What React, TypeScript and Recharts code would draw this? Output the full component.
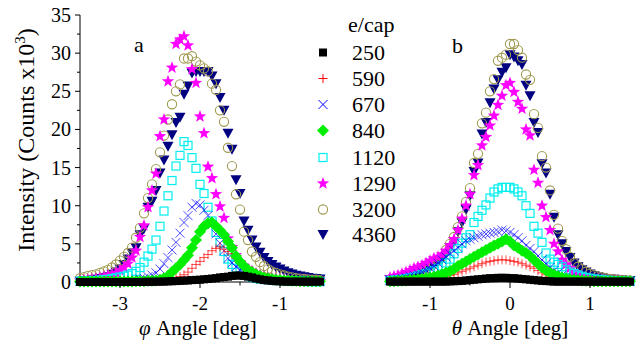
import React from 'react';
import { ScatterChart, Scatter, XAxis, YAxis } from 'recharts';

const phiAngles = [
  -3.5, -3.45, -3.4, -3.35, -3.3, -3.25, -3.2, -3.15, -3.1, -3.05,
  -3.0, -2.95, -2.9, -2.85, -2.8, -2.75, -2.7, -2.65, -2.6, -2.55,
  -2.5, -2.45, -2.4, -2.35, -2.3, -2.25, -2.2, -2.15, -2.1, -2.05,
  -2.0, -1.95, -1.9, -1.85, -1.8, -1.75, -1.7, -1.65, -1.6, -1.55,
  -1.5, -1.45, -1.4, -1.35, -1.3, -1.25, -1.2, -1.15, -1.1, -1.05,
  -1.0, -0.95, -0.9, -0.85, -0.8, -0.75, -0.7, -0.65, -0.6, -0.55,
  -0.5,
];
const thetaAngles = [
  -1.5, -1.45, -1.4, -1.35, -1.3, -1.25, -1.2, -1.15, -1.1, -1.05,
  -1.0, -0.95, -0.9, -0.85, -0.8, -0.75, -0.7, -0.65, -0.6, -0.55,
  -0.5, -0.45, -0.4, -0.35, -0.3, -0.25, -0.2, -0.15, -0.1, -0.05,
  0.0, 0.05, 0.1, 0.15, 0.2, 0.25, 0.3, 0.35, 0.4, 0.45,
  0.5, 0.55, 0.6, 0.65, 0.7, 0.75, 0.8, 0.85, 0.9, 0.95,
  1.0, 1.05, 1.1, 1.15, 1.2, 1.25, 1.3, 1.35, 1.4, 1.45,
  1.5,
];
const seriesLabels = ['250', '590', '670', '840', '1120', '1290', '3200', '4360'];
const phiTicks = [-3, -2.5, -2, -1.5, -1];
const thetaTicks = [-1, -0.5, 0, 0.5, 1];
const intensityTicks = [0, 2.5, 5, 7.5, 10, 12.5, 15, 17.5, 20, 22.5, 25, 27.5, 30, 32.5, 35];

// phi scan (panel a)
const phi250 = [
  0, 0, 0, 0, 0, 0, 0, 0, 0, 0,
  0, 0, 0, 0, 0, 0, 0.02, 0.02, 0.03, 0.04,
  0.05, 0.05, 0.08, 0.1, 0.12, 0.15, 0.18, 0.2, 0.25, 0.28,
  0.3, 0.35, 0.4, 0.45, 0.5, 0.6, 0.65, 0.7, 0.8, 0.85,
  0.85, 0.8, 0.7, 0.6, 0.45, 0.35, 0.25, 0.2, 0.15, 0.1,
  0.1, 0.05, 0.05, 0.05, 0.05, 0.05, 0.05, 0.05, 0.05, 0.05,
  0.05,
];
const phi590 = [
  0.05, 0.05, 0.05, 0.05, 0.05, 0.05, 0.05, 0.05, 0.05, 0.05,
  0.05, 0.05, 0.05, 0.1, 0.1, 0.1, 0.1, 0.15, 0.15, 0.2,
  0.2, 0.25, 0.3, 0.4, 0.55, 0.7, 0.95, 1.3, 1.8, 2.3,
  2.7, 3.2, 3.6, 4.1, 4.4, 4.6, 4.3, 4.0, 3.7, 3.1,
  2.7, 2.2, 1.8, 1.5, 1.2, 0.9, 0.7, 0.55, 0.45, 0.35,
  0.3, 0.25, 0.2, 0.15, 0.15, 0.1, 0.1, 0.1, 0.1, 0.1,
  0.1,
];
const phi670 = [
  0.05, 0.05, 0.05, 0.05, 0.05, 0.1, 0.1, 0.1, 0.1, 0.15,
  0.15, 0.2, 0.2, 0.25, 0.3, 0.4, 0.5, 0.7, 0.9, 1.2,
  1.7, 2.4, 3.2, 4.2, 5.2, 6.4, 7.8, 8.7, 9.8, 10.3,
  10.1, 9.4, 8.7, 7.5, 6.3, 5.1, 4.1, 3.1, 2.5, 2.0,
  1.6, 1.3, 1.0, 0.8, 0.6, 0.5, 0.4, 0.3, 0.25, 0.2,
  0.15, 0.15, 0.1, 0.1, 0.1, 0.1, 0.05, 0.05, 0.05, 0.05,
  0.05,
];
const phi840 = [
  0.05, 0.05, 0.05, 0.05, 0.05, 0.05, 0.05, 0.05, 0.05, 0.05,
  0.05, 0.05, 0.05, 0.05, 0.1, 0.1, 0.1, 0.15, 0.15, 0.2,
  0.3, 0.5, 0.8, 1.3, 1.8, 2.3, 2.9, 3.5, 4.5, 5.5,
  6.6, 7.3, 7.7, 7.8, 7.3, 6.8, 6.2, 5.3, 4.5, 3.4,
  2.7, 2.1, 1.6, 1.3, 1.0, 0.8, 0.6, 0.5, 0.4, 0.3,
  0.25, 0.2, 0.2, 0.15, 0.15, 0.1, 0.1, 0.1, 0.1, 0.1,
  0.1,
];
const phi1120 = [
  0.1, 0.1, 0.15, 0.15, 0.2, 0.25, 0.3, 0.35, 0.45, 0.55,
  0.65, 0.75, 0.9, 1.1, 1.4, 1.9, 2.6, 3.4, 4.3, 5.5,
  7.3, 9.3, 11.3, 13.3, 15.2, 16.6, 18.4, 17.9, 16.3, 14.9,
  12.8, 11.6, 9.8, 8.0, 6.5, 5.2, 4.0, 3.0, 2.3, 1.8,
  1.4, 1.1, 0.85, 0.65, 0.5, 0.4, 0.35, 0.3, 0.25, 0.2,
  0.2, 0.15, 0.15, 0.1, 0.1, 0.1, 0.1, 0.05, 0.05, 0.05,
  0.05,
];
const phi1290 = [
  0.2, 0.25, 0.3, 0.35, 0.45, 0.55, 0.7, 0.85, 1.0, 1.2,
  1.5, 1.9, 2.4, 3.2, 4.1, 5.9, 7.4, 9.8, 12.0, 14.2,
  19.1, 21.3, 26.3, 28.1, 31.2, 31.8, 32.2, 31.0, 27.9, 26.1,
  21.7, 19.5, 15.1, 13.6, 11.5, 9.9, 8.4, 5.7, 4.6, 3.5,
  2.6, 2.1, 1.7, 1.4, 1.1, 0.9, 0.7, 0.55, 0.45, 0.4,
  0.35, 0.3, 0.25, 0.2, 0.2, 0.15, 0.15, 0.1, 0.1, 0.1,
  0.1,
];
const phi3200 = [
  0.5, 0.65, 0.8, 0.9, 1.0, 1.2, 1.4, 1.6, 1.9, 2.3,
  2.8, 3.3, 3.8, 4.5, 5.8, 7.1, 9.0, 11.0, 12.8, 14.8,
  17.0, 19.2, 21.3, 23.3, 25.0, 25.9, 29.3, 29.3, 29.6, 28.9,
  28.4, 28.0, 27.6, 26.0, 25.2, 22.5, 21.0, 17.6, 15.2, 11.5,
  9.5, 6.6, 5.5, 4.0, 3.3, 2.6, 2.1, 1.7, 1.4, 1.2,
  1.0, 0.85, 0.7, 0.6, 0.5, 0.45, 0.4, 0.35, 0.3, 0.3,
  0.25,
];
const phi4360 = [
  0.1, 0.15, 0.2, 0.25, 0.35, 0.45, 0.55, 0.7, 1.0, 1.3,
  1.7, 2.3, 3.0, 3.8, 4.5, 6.2, 7.0, 9.8, 10.6, 12.0,
  14.3, 16.0, 17.8, 19.3, 20.9, 21.6, 24.6, 25.7, 27.4, 27.6,
  27.6, 27.6, 27.6, 27.0, 26.0, 24.2, 22.5, 19.5, 17.4, 13.4,
  11.6, 8.0, 6.8, 5.5, 4.6, 3.9, 3.2, 2.7, 2.3, 1.95,
  1.7, 1.45, 1.2, 1.05, 0.9, 0.8, 0.7, 0.6, 0.5, 0.45,
  0.4,
];

// theta scan (panel b)
const theta250 = [
  0.05, 0.05, 0.05, 0.05, 0.05, 0.05, 0.05, 0.05, 0.05, 0.05,
  0.05, 0.05, 0.05, 0.05, 0.05, 0.08, 0.1, 0.12, 0.15, 0.2,
  0.25, 0.3, 0.35, 0.4, 0.45, 0.5, 0.5, 0.55, 0.55, 0.55,
  0.5, 0.5, 0.45, 0.4, 0.35, 0.3, 0.25, 0.2, 0.15, 0.12,
  0.1, 0.05, 0.05, 0.05, 0.05, 0.05, 0.05, 0.05, 0.05, 0.05,
  0.05, 0.05, 0.05, 0.05, 0.05, 0.05, 0.05, 0.05, 0.05, 0.05,
  0.05,
];
const theta590 = [
  0.05, 0.05, 0.1, 0.1, 0.1, 0.15, 0.15, 0.2, 0.2, 0.25,
  0.3, 0.35, 0.45, 0.55, 0.7, 0.85, 1.0, 1.2, 1.4, 1.6,
  1.8, 2.0, 2.2, 2.4, 2.6, 2.7, 2.8, 2.9, 2.9, 2.9,
  2.8, 2.7, 2.6, 2.4, 2.2, 2.0, 1.8, 1.5, 1.2, 0.95,
  0.75, 0.6, 0.45, 0.35, 0.25, 0.2, 0.15, 0.15, 0.1, 0.1,
  0.1, 0.05, 0.05, 0.05, 0.05, 0.05, 0.05, 0.05, 0.05, 0.05,
  0.05,
];
const theta670 = [
  0.25, 0.3, 0.4, 0.5, 0.6, 0.75, 0.9, 1.1, 1.3, 1.55,
  1.8, 2.1, 2.5, 2.9, 3.3, 3.7, 4.1, 4.5, 5.0, 5.4,
  5.6, 5.8, 6.0, 6.2, 6.3, 6.4, 6.5, 6.6, 6.8, 6.7,
  6.5, 6.2, 5.8, 5.4, 4.8, 4.4, 4.0, 3.4, 2.9, 2.4,
  1.9, 1.5, 1.2, 0.9, 0.7, 0.55, 0.45, 0.35, 0.3, 0.25,
  0.2, 0.2, 0.15, 0.15, 0.1, 0.1, 0.1, 0.1, 0.1, 0.1,
  0.1,
];
const theta840 = [
  0.1, 0.1, 0.15, 0.15, 0.2, 0.25, 0.3, 0.35, 0.4, 0.5,
  0.6, 0.7, 0.85, 1.0, 1.2, 1.4, 1.7, 2.1, 2.4, 2.7,
  3.0, 3.3, 3.6, 3.9, 4.2, 4.5, 4.8, 5.0, 5.3, 5.6,
  5.3, 4.8, 4.5, 4.1, 3.8, 3.4, 2.9, 2.4, 1.9, 1.5,
  1.2, 0.95, 0.75, 0.6, 0.45, 0.35, 0.3, 0.25, 0.2, 0.15,
  0.15, 0.1, 0.1, 0.1, 0.1, 0.1, 0.1, 0.1, 0.1, 0.1,
  0.1,
];
const theta1120 = [
  0.2, 0.25, 0.3, 0.35, 0.45, 0.55, 0.65, 0.8, 0.95, 1.1,
  1.3, 1.5, 1.8, 2.1, 2.5, 3.0, 3.7, 4.4, 5.1, 5.8,
  6.2, 7.8, 8.6, 9.4, 10.1, 11.0, 11.8, 12.2, 12.4, 12.4,
  12.4, 12.2, 11.8, 11.3, 10.0, 9.0, 7.3, 6.4, 5.2, 3.8,
  3.0, 2.6, 2.3, 2.0, 1.6, 1.3, 1.1, 0.9, 0.75, 0.6,
  0.5, 0.4, 0.35, 0.3, 0.25, 0.2, 0.15, 0.15, 0.1, 0.1,
  0.1,
];
const theta1290 = [
  0.6, 0.75, 0.9, 1.1, 1.3, 1.55, 1.8, 2.0, 2.2, 2.5,
  2.8, 3.1, 3.3, 3.6, 4.1, 4.8, 5.6, 6.8, 8.3, 10.0,
  11.5, 14.0, 15.3, 17.9, 19.0, 20.5, 21.8, 23.2, 24.4, 25.8,
  26.1, 24.9, 23.6, 22.7, 20.0, 19.2, 14.7, 13.0, 10.0, 8.5,
  6.8, 5.0, 4.0, 2.9, 2.3, 1.8, 1.3, 1.0, 0.8, 0.6,
  0.5, 0.4, 0.35, 0.3, 0.25, 0.2, 0.2, 0.15, 0.15, 0.1,
  0.1,
];
const theta3200 = [
  0.3, 0.35, 0.45, 0.55, 0.7, 0.85, 1.0, 1.2, 1.5, 1.8,
  2.1, 2.4, 2.9, 3.3, 4.2, 5.0, 5.9, 7.2, 8.6, 10.5,
  12.3, 15.6, 16.8, 20.8, 22.2, 25.0, 26.6, 29.0, 29.4, 29.8,
  31.2, 31.2, 30.4, 29.4, 27.2, 26.5, 22.0, 20.2, 16.5, 15.0,
  12.0, 8.8, 7.0, 5.4, 4.3, 3.3, 2.5, 2.0, 1.7, 1.35,
  1.1, 0.9, 0.75, 0.6, 0.5, 0.4, 0.35, 0.3, 0.25, 0.2,
  0.2,
];
const theta4360 = [
  0.3, 0.35, 0.4, 0.5, 0.6, 0.75, 0.9, 1.1, 1.35, 1.6,
  1.9, 2.2, 2.6, 3.0, 3.7, 4.5, 5.3, 6.6, 7.8, 9.5,
  11.3, 14.5, 15.6, 19.4, 20.9, 23.5, 25.3, 26.5, 27.5, 28.1,
  29.8, 29.5, 29.0, 28.5, 25.8, 24.4, 20.9, 19.6, 15.5, 14.3,
  11.5, 8.5, 6.2, 5.0, 4.0, 3.2, 2.5, 2.0, 1.6, 1.3,
  1.05, 0.85, 0.7, 0.55, 0.45, 0.4, 0.35, 0.3, 0.25, 0.2,
  0.2,
];

const phiSeries = [phi250, phi590, phi670, phi840, phi1120, phi1290, phi3200, phi4360];
const thetaSeries = [theta250, theta590, theta670, theta840, theta1120, theta1290, theta3200, theta4360];

const markerKinds = ['square', 'plus', 'cross', 'diamond', 'osquare', 'star', 'circle', 'tri'];
const markerColors = ['#000000', '#ff0000', '#0000ff', '#00ee00', '#00eeee', '#ff00ff', '#a09a50', '#000080'];
const drawOrder = [7, 6, 5, 4, 2, 1, 3, 0];

const FONT = "'Liberation Serif', Tinos, 'Times New Roman', 'DejaVu Serif', serif";
const textStyle = { fontFamily: FONT };

function starPoints(cx: number, cy: number, ro: number, ri: number) {
  const pts: string[] = [];
  for (let k = 0; k < 10; k++) {
    const r = k % 2 === 0 ? ro : ri;
    const a = -Math.PI / 2 + (k * Math.PI) / 5;
    pts.push(`${cx + r * Math.cos(a)},${cy + r * Math.sin(a)}`);
  }
  return pts.join(' ');
}

function renderMarker(kind: string, color: string, cx: number, cy: number, inPlot: boolean) {
  const op = inPlot && (kind === 'plus' || kind === 'cross') ? 0.7 : 1;
  switch (kind) {
    case 'square':
      return <rect x={cx - 4} y={cy - 4} width={8} height={8} fill={color} />;
    case 'plus':
      return (
        <path d={`M${cx - 4.5},${cy}H${cx + 4.5}M${cx},${cy - 4.5}V${cy + 4.5}`} stroke={color} strokeWidth={1} fill="none" opacity={op} />
      );
    case 'cross':
      return (
        <path d={`M${cx - 4.5},${cy - 4.5}L${cx + 4.5},${cy + 4.5}M${cx - 4.5},${cy + 4.5}L${cx + 4.5},${cy - 4.5}`} stroke={color} strokeWidth={1} fill="none" opacity={op} />
      );
    case 'diamond':
      return <polygon points={`${cx},${cy - 6} ${cx + 6},${cy} ${cx},${cy + 6} ${cx - 6},${cy}`} fill={color} />;
    case 'osquare':
      return <rect x={cx - 4} y={cy - 4} width={8} height={8} fill="none" stroke={color} strokeWidth={1.2} />;
    case 'star':
      return <polygon points={starPoints(cx, cy, 6.5, 2.7)} fill={color} />;
    case 'circle':
      return <circle cx={cx} cy={cy} r={4.6} fill="none" stroke={color} strokeWidth={1.1} />;
    case 'tri':
    default:
      return <polygon points={`${cx - 5.5},${cy - 4.5} ${cx + 5.5},${cy - 4.5} ${cx},${cy + 5.5}`} fill={color} />;
  }
}

const toPoints = (xs: number[], ys: number[]) => xs.map((x, i) => ({ x, y: ys[i] }));

const XTick = (props: any) => {
  const { x, y, payload } = props;
  const v = payload.value;
  const major = Number.isInteger(v);
  return (
    <g>
      <line x1={x} x2={x} y1={y} y2={y + (major ? 6 : 3.5)} stroke="#000" strokeWidth={1} />
      {major && (
        <text x={x} y={y + 28} textAnchor="middle" fontSize={19} style={textStyle} fill="#000">
          {v}
        </text>
      )}
    </g>
  );
};

const YTick = (props: any) => {
  const { x, y, payload } = props;
  const v = payload.value;
  const major = v % 5 === 0;
  return (
    <g>
      <line x1={x - (major ? 5 : 3)} x2={x} y1={y} y2={y} stroke="#000" strokeWidth={1} />
      {major && (
        <text x={x - 9} y={y + 7} textAnchor="end" fontSize={20} style={textStyle} fill="#000">
          {v}
        </text>
      )}
    </g>
  );
};

function renderScatters(xs: number[], series: number[][]) {
  return drawOrder.map((idx) => (
    <Scatter
      key={seriesLabels[idx]}
      name={seriesLabels[idx]}
      data={toPoints(xs, series[idx])}
      isAnimationActive={false}
      shape={(p: any) => renderMarker(markerKinds[idx], markerColors[idx], p.cx, p.cy, true)}
    />
  ));
}

export default function App() {
  const legendBaselines = [60, 86, 112, 138, 165, 191, 217, 242];
  return (
    <div style={{ position: 'absolute', left: 0, top: 0, width: 636, height: 342, background: '#fff', fontFamily: FONT }}>
      <div style={{ position: 'absolute', left: 0, top: 0 }}>
        <ScatterChart width={340} height={342} margin={{ top: 15, right: 20, bottom: 0, left: 0 }}>
          <XAxis
            type="number"
            dataKey="x"
            domain={[-3.5, -0.5]}
            ticks={phiTicks}
            interval={0}
            height={60}
            tickSize={0}
            tickMargin={0}
            tickLine={false}
            axisLine={{ stroke: '#000' }}
            tick={(p: any) => <XTick {...p} />}
          />
          <YAxis
            type="number"
            dataKey="y"
            domain={[0, 35]}
            ticks={intensityTicks}
            interval={0}
            width={80}
            tickSize={0}
            tickMargin={0}
            tickLine={false}
            axisLine={{ stroke: '#000' }}
            tick={(p: any) => <YTick {...p} />}
          />
          {renderScatters(phiAngles, phiSeries)}
        </ScatterChart>
      </div>
      <div style={{ position: 'absolute', left: 300, top: 0 }}>
        <ScatterChart width={336} height={342} margin={{ top: 15, right: 6, bottom: 0, left: 90 }}>
          <XAxis
            type="number"
            dataKey="x"
            domain={[-1.5, 1.5]}
            ticks={thetaTicks}
            interval={0}
            height={60}
            tickSize={0}
            tickMargin={0}
            tickLine={false}
            axisLine={{ stroke: '#000' }}
            tick={(p: any) => <XTick {...p} />}
          />
          <YAxis type="number" dataKey="y" domain={[0, 35]} hide />
          {renderScatters(thetaAngles, thetaSeries)}
        </ScatterChart>
      </div>
      <svg width={636} height={342} style={{ position: 'absolute', left: 0, top: 0, pointerEvents: 'none' }}>
        <text transform="translate(34,140) rotate(-90)" textAnchor="middle" fontSize={24} style={textStyle} fill="#000">
          Intensity (Counts x10<tspan dy={-9} fontSize={15}>3</tspan>
          <tspan dy={9}>)</tspan>
        </text>
        <text x={198} y={335} textAnchor="middle" fontSize={21} style={textStyle} fill="#000">
          <tspan fontStyle="italic">φ</tspan> Angle [deg]
        </text>
        <text x={510} y={335} textAnchor="middle" fontSize={21} style={textStyle} fill="#000">
          <tspan fontStyle="italic">θ</tspan> Angle [deg]
        </text>
        <text x={134} y={52} fontSize={22} style={textStyle} fill="#000">a</text>
        <text x={452} y={53} fontSize={22} style={textStyle} fill="#000">b</text>
        <text x={348} y={32} fontSize={22} style={textStyle} fill="#000">e/cap</text>
        {seriesLabels.map((lab, i) => (
          <g key={lab}>
            {renderMarker(markerKinds[i], markerColors[i], 323, legendBaselines[i] - 7.5, false)}
            <text x={352} y={legendBaselines[i]} fontSize={22} style={textStyle} fill="#000">
              {lab}
            </text>
          </g>
        ))}
      </svg>
    </div>
  );
}
